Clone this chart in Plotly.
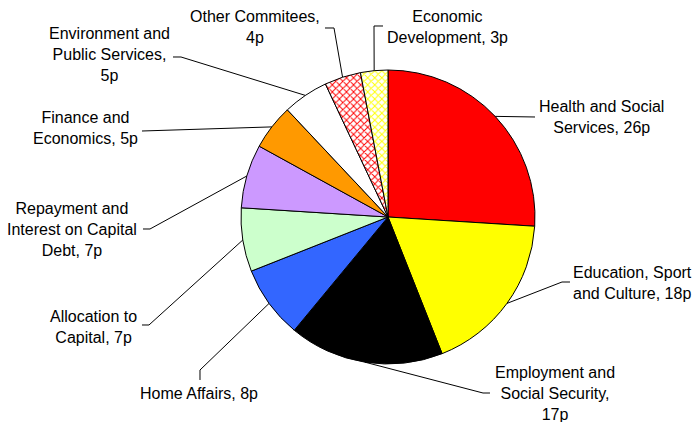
import math
import plotly.graph_objects as go

# ---- data ----
labels = ["Health and Social<br>Services", "Education, Sport<br>and Culture",
          "Employment and<br>Social Security,<br>", "Home Affairs",
          "Allocation to<br>Capital", "Repayment and<br>Interest on Capital<br>Debt",
          "Finance and<br>Economics", "Environment and<br>Public Services,<br>",
          "Other Commitees,<br>", "Economic<br>Development"]
values = [26, 18, 17, 8, 7, 7, 5, 5, 4, 3]
colors = ["#FF0000", "#FFFF00", "#000000", "#3366FF", "#CCFFCC",
          "#CC99FF", "#FF9900", "#FFFFFF", "#FFFFFF", "#FFFFFF"]
patterns = ["", "", "", "", "", "", "", "", "x", "x"]
pattern_fg = ["#FF0000", "#FFFF00", "#000000", "#3366FF", "#CCFFCC",
              "#CC99FF", "#FF9900", "#FFFFFF", "#FF0000", "#FFFF00"]

# ---- layout (pixels) ----
W, H = 697, 422
CX, CY, R = 388, 217, 147
# label centre and leader elbow points (pixels)
label_pos = [(601, 117), (632, 283), (555, 393), (199, 393), (93, 327),
             (72, 229), (85, 128), (110, 55), (255, 27), (447, 27)]
elbows = [[(535, 117)], [(562, 282), (570, 282)], [(483, 393), (490, 393)],
          [(200, 370), (200, 380)], [(149, 325), (142, 325)],
          [(150, 229), (143, 229)], [(142, 131)], [(181, 57), (173, 57)],
          [(334, 28), (325, 28)], [(374, 26), (383, 26)]]
FONT = dict(family="Liberation Sans, Arial, sans-serif", size=16, color="black")


def px(x, y):
    return x / W, 1 - y / H


fig = go.Figure(go.Pie(
    labels=[l.replace("<br>", " ") for l in labels],
    values=values, sort=False, direction="clockwise", rotation=0,
    textinfo="none", hoverinfo="skip",
    marker=dict(colors=colors, line=dict(color="black", width=1),
                pattern=dict(shape=patterns, fgcolor=pattern_fg,
                             bgcolor=colors, size=5, solidity=0.35,
                             fillmode="replace")),
    domain=dict(x=[(CX - R) / W, (CX + R) / W],
                y=[(H - CY - R) / H, (H - CY + R) / H]),
))

total = sum(values)
cum = 0
shapes, annotations = [], []
for i, v in enumerate(values):
    mid = (cum + v / 2) / total * 2 * math.pi
    cum += v
    sx, sy = CX + R * math.sin(mid), CY - R * math.cos(mid)
    pts = [(sx, sy)] + elbows[i]
    path = ""
    for j, (x, y) in enumerate(pts):
        xp, yp = px(x, y)
        path += ("M" if j == 0 else " L") + f"{xp:.5f},{yp:.5f}"
    shapes.append(dict(type="path", path=path, xref="paper", yref="paper",
                       line=dict(color="black", width=1)))
    lx, ly = px(*label_pos[i])
    annotations.append(dict(text=f"{labels[i]}{'' if labels[i].endswith('<br>') else ', '}{v}p",
                            x=lx, y=ly, xref="paper", yref="paper",
                            xanchor="center", yanchor="middle", align="center",
                            showarrow=False, font=FONT))

fig.update_layout(width=W, height=H, margin=dict(l=0, r=0, t=0, b=0),
                  paper_bgcolor="white", plot_bgcolor="white",
                  showlegend=False, shapes=shapes, annotations=annotations)
fig.write_html("out.html")
